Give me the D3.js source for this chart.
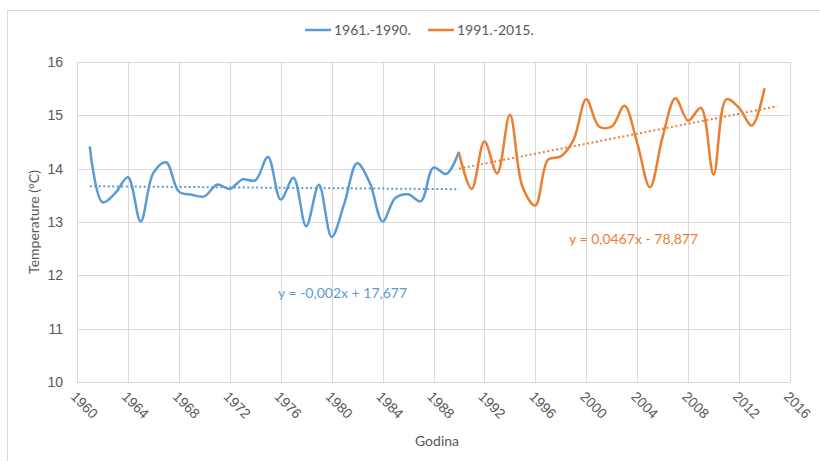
<!DOCTYPE html>
<html>
<head>
<meta charset="utf-8">
<script src="https://cdn.jsdelivr.net/npm/d3@7"></script>
<style>
  body { margin: 0; background: #fff; }
  svg { font-family: Lato, "Open Sans", sans-serif; }
  .grid line { stroke: #d9d9d9; stroke-width: 1; }
  .tick text { fill: #595959; }
</style>
</head>
<body>
<svg id="chart" width="820" height="461"></svg>
<script>
// values
const years1 = d3.range(1961, 1991);
const temps1 = [14.42, 13.37, 13.54, 13.84, 13.01, 13.92, 14.12, 13.57, 13.51, 13.48,
  13.70, 13.62, 13.80, 13.78, 14.22, 13.42, 13.83, 12.92, 13.70, 12.72,
  13.35, 14.10, 13.73, 13.01, 13.45, 13.52, 13.39, 14.02, 13.90, 14.32];

const years2 = d3.range(1990, 2015);
const temps2 = [14.30, 13.62, 14.51, 13.91, 15.01, 13.65, 13.31, 14.17, 14.23, 14.54,
  15.30, 14.79, 14.79, 15.18, 14.48, 13.65, 14.60, 15.32, 14.90, 15.14,
  13.89, 15.30, 15.14, 14.81, 15.51];

const seriesNames = ["1961.-1990.", "1991.-2015."];
const equations = ["y = -0,002x + 17,677", "y = 0,0467x - 78,877"];
const xTicks = d3.range(1960, 2017, 4);
const yTicks = [10, 11, 12, 13, 14, 15, 16];

const colors = ["#5b9bd5", "#ed7d31"];

const svg = d3.select("#chart");
const margin = { top: 62, right: 30, bottom: 79, left: 77 };
const width = 790 - margin.left;
const height = 382 - margin.top;

// outer chart border
svg.append("rect")
  .attr("x", 7.5).attr("y", 10.5)
  .attr("width", 830).attr("height", 470)
  .attr("fill", "none")
  .attr("stroke", "#d9d9d9");

const g = svg.append("g").attr("transform", `translate(${margin.left},${margin.top})`);

const x = d3.scaleLinear().domain([1960, 2016]).range([0, width]);
const y = d3.scaleLinear().domain([10, 16]).range([height, 0]);

// grid
g.append("g").attr("class", "grid")
  .selectAll("line.h").data(yTicks).enter().append("line")
  .attr("x1", 0).attr("x2", width)
  .attr("y1", d => Math.round(y(d)) + 0.5).attr("y2", d => Math.round(y(d)) + 0.5);
g.append("g").attr("class", "grid")
  .selectAll("line.v").data(xTicks).enter().append("line")
  .attr("y1", 0).attr("y2", height)
  .attr("x1", d => Math.round(x(d)) + 0.5).attr("x2", d => Math.round(x(d)) + 0.5);

// y axis labels
const yAxis = g.append("g")
  .call(d3.axisLeft(y).tickValues(yTicks).tickFormat(d3.format("d")).tickSize(0).tickPadding(14));
yAxis.select(".domain").remove();
yAxis.selectAll("text").style("font-size", "14px");

// x axis labels, rotated
const xAxis = g.append("g")
  .attr("transform", `translate(0,${height})`)
  .call(d3.axisBottom(x).tickValues(xTicks).tickFormat(d3.format("d")).tickSize(0));
xAxis.select(".domain").remove();
xAxis.selectAll("text")
  .style("font-size", "14px")
  .attr("text-anchor", "start")
  .attr("transform", "translate(-4,12) rotate(45)")
  .attr("y", 0).attr("dy", "0.35em");

// trendlines (least squares, like Excel)
function trend(xs, ys, x0, x1) {
  const mx = d3.mean(xs), my = d3.mean(ys);
  const b = d3.sum(xs, (v, i) => (v - mx) * (ys[i] - my)) / d3.sum(xs, v => (v - mx) * (v - mx));
  const a = my - b * mx;
  return [[x0, a + b * x0], [x1, a + b * x1]];
}
const trends = [
  trend(years1, temps1, 1961, 1990),
  trend(years2, temps2, 1990, 2015)
];

const lineT = d3.line().x(d => x(d[0])).y(d => y(d[1]));
trends.forEach((t, i) => {
  g.append("path")
    .attr("d", lineT(t))
    .attr("fill", "none")
    .attr("stroke", colors[i])
    .attr("stroke-width", 2)
    .attr("stroke-dasharray", "2,2.5");
});

// data lines
const line = d3.line().curve(d3.curveCatmullRom.alpha(0.5))
  .x(d => x(d[0])).y(d => y(d[1]));
[[years1, temps1], [years2, temps2]].forEach(([xs, ys], i) => {
  g.append("path")
    .datum(xs.map((v, k) => [v, ys[k]]))
    .attr("d", line)
    .attr("fill", "none")
    .attr("stroke", colors[i])
    .attr("stroke-width", 2.5)
    .attr("stroke-linejoin", "round");
});

// equations
svg.append("text").attr("x", 278).attr("y", 298)
  .attr("fill", colors[0]).style("font-size", "14px").text(equations[0]);
svg.append("text").attr("x", 569).attr("y", 244)
  .attr("fill", colors[1]).style("font-size", "14px").text(equations[1]);

// axis titles
svg.append("text").attr("x", 437).attr("y", 446)
  .attr("text-anchor", "middle").attr("fill", "#595959")
  .style("font-size", "14px").text("Godina");
svg.append("text")
  .attr("transform", "translate(39,222) rotate(-90)")
  .attr("text-anchor", "middle").attr("fill", "#595959")
  .style("font-size", "14px").text("Temperature (°C)");

// legend
const legend = svg.append("g");
const legX = [305, 428];
seriesNames.forEach((name, i) => {
  legend.append("line")
    .attr("x1", legX[i]).attr("x2", legX[i] + 26)
    .attr("y1", 30).attr("y2", 30)
    .attr("stroke", colors[i]).attr("stroke-width", 2.5);
  legend.append("text")
    .attr("x", legX[i] + 29).attr("y", 35)
    .attr("fill", "#595959").style("font-size", "14px").text(name);
});
</script>
</body>
</html>
